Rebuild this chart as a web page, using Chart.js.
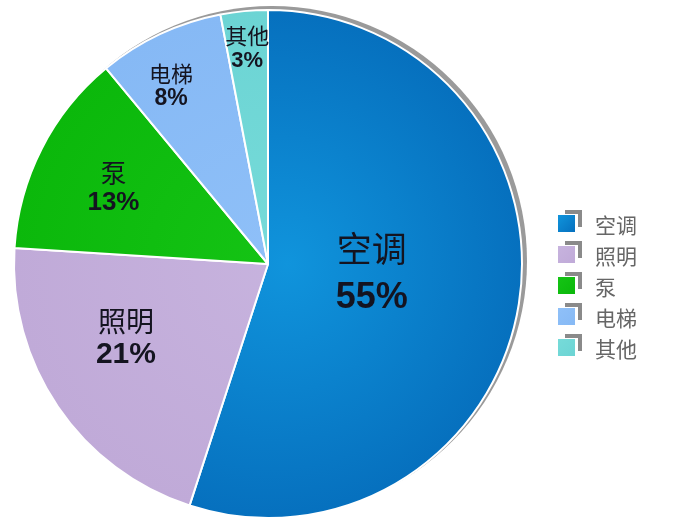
<!DOCTYPE html>
<html>
<head>
<meta charset="utf-8">
<script src="https://cdn.jsdelivr.net/npm/chart.js@4.4.1/dist/chart.umd.min.js"></script>
<style>
  html, body { margin: 0; padding: 0; background: #fff; }
  #wrap { width: 673px; height: 527px; position: relative; }
</style>
</head>
<body>
<div id="wrap"><canvas id="energyChart"></canvas></div>
<script>
// Data
const categories = ["空调", "照明", "泵", "电梯", "其他"];
const shares = [55, 21, 13, 8, 3];
const percentLabels = ["55%", "21%", "13%", "8%", "3%"];

// slice colours, centre -> edge
const sliceColors = [
  ["#1094dc", "#0670be"],
  ["#c7b3de", "#c0aad8"],
  ["#15c415", "#0bb80b"],
  ["#8fc0f8", "#86b9f5"],
  ["#76dbd9", "#6cd4d4"]
];

// where each label sits in its slice (fraction along the arc, fraction of radius) and text sizes
const labelStyle = [
  { along: 0.48, out: 0.41, nameSize: 35, pctSize: 36, gap: 46 },
  { along: 0.59, out: 0.63, nameSize: 28, pctSize: 30, gap: 31 },
  { along: 0.49, out: 0.68, nameSize: 26, pctSize: 26, gap: 27 },
  { along: 0.385, out: 0.80, nameSize: 22, pctSize: 23, gap: 23 },
  { along: 0.49, out: 0.855, nameSize: 22, pctSize: 22, gap: 23 }
];

const FONT = '"Liberation Sans", Arial, "Noto Sans CJK SC", sans-serif';

function sliceFill(context){
  const chart = context.chart;
  const area = chart.chartArea;
  if(!area){
    return sliceColors[context.dataIndex][1];
  }
  const cx = (area.left + area.right) / 2;
  const cy = (area.top + area.bottom) / 2;
  const r = Math.min(area.width, area.height) / 2;
  const g = chart.ctx.createRadialGradient(cx + 20, cy, 0, cx, cy, r);
  g.addColorStop(0, sliceColors[context.dataIndex][0]);
  g.addColorStop(1, sliceColors[context.dataIndex][1]);
  return g;
}

//Grey shadow peeking out at the top right of the pie
const shadowPlugin = {
  id: "pieShadow",
  beforeDatasetsDraw(chart){
    const arc = chart.getDatasetMeta(0).data[0];
    if(!arc) return;
    const ctx = chart.ctx;
    ctx.save();
    ctx.fillStyle = "#9a9a9a";
    ctx.beginPath();
    ctx.arc(arc.x + 4, arc.y - 3, arc.outerRadius + 1, 0, Math.PI * 2);
    ctx.fill();
    ctx.restore();
  }
};

//Two line labels inside the slices
const sliceLabels = {
  id: "sliceLabels",
  afterDatasetsDraw(chart){
    const ctx = chart.ctx;
    const arcs = chart.getDatasetMeta(0).data;
    ctx.save();
    ctx.textAlign = "center";
    ctx.textBaseline = "middle";
    arcs.forEach(function(arc, i){
      const s = labelStyle[i];
      const a = arc.startAngle + s.along * (arc.endAngle - arc.startAngle);
      const x = arc.x + Math.cos(a) * arc.outerRadius * s.out;
      const y = arc.y + Math.sin(a) * arc.outerRadius * s.out;
      ctx.fillStyle = "#141420";
      ctx.font = "normal " + s.nameSize + "px " + FONT;
      ctx.fillText(categories[i], x, y - s.gap / 2 + 2);
      ctx.font = "bold " + s.pctSize + "px " + FONT;
      ctx.fillText(percentLabels[i], x, y + s.gap / 2 + 2);
    });
    ctx.restore();
  }
};

//Legend on the right with the little bevelled boxes
const boxLegend = {
  id: "boxLegend",
  afterDraw(chart){
    const ctx = chart.ctx;
    ctx.save();
    categories.forEach(function(name, i){
      const y = 224 + i * 31;
      ctx.fillStyle = "#8a8a8a";
      ctx.fillRect(565, y - 14, 17, 17);
      ctx.fillStyle = "#ffffff";
      ctx.fillRect(556, y - 10, 22, 22);
      const g = ctx.createLinearGradient(558, y - 9, 575, y + 8);
      g.addColorStop(0, sliceColors[i][0]);
      g.addColorStop(1, sliceColors[i][1]);
      ctx.fillStyle = g;
      ctx.fillRect(558, y - 9, 17, 17);
      ctx.fillStyle = "#666666";
      ctx.font = '21px "Noto Sans CJK SC", sans-serif';
      ctx.textBaseline = "middle";
      ctx.textAlign = "left";
      ctx.fillText(name, 595, y + 1);
    });
    ctx.restore();
  }
};

new Chart(document.querySelector("#energyChart"), {
  type: "pie",
  data: {
    labels: categories,
    datasets: [{
      data: shares,
      backgroundColor: sliceFill,
      borderColor: "#ffffff",
      borderWidth: 2
    }]
  },
  options: {
    responsive: true,
    maintainAspectRatio: false,
    animation: false,
    layout: {
      padding: { left: 13, right: 150, top: 9, bottom: 8 }
    },
    plugins: {
      legend: { display: false },
      tooltip: { enabled: false }
    }
  },
  plugins: [shadowPlugin, sliceLabels, boxLegend]
});
</script>
</body>
</html>
